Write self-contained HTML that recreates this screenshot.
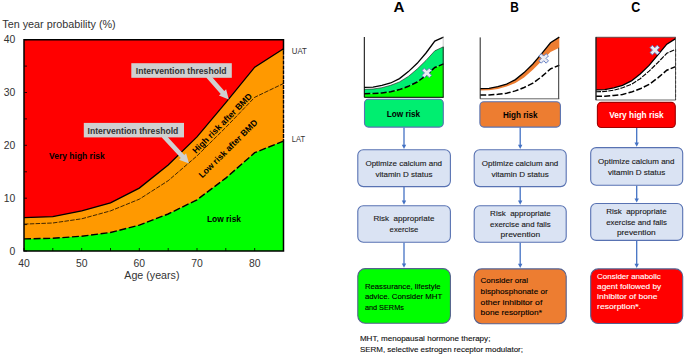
<!DOCTYPE html><html><head><meta charset="utf-8"><style>html,body{margin:0;padding:0;background:#fff;}svg{display:block}</style></head><body>
<svg width="685" height="358" viewBox="0 0 685 358">
<rect x="24.0" y="39.7" width="259.5" height="211.3" fill="#ff0000"/>
<polygon points="24.0,217.7 52.8,216.7 81.7,210.9 110.5,202.9 139.3,188.1 168.2,164.9 197.0,136.9 225.8,102.6 254.7,67.2 283.5,48.7 283.5,251.0 24.0,251.0" fill="#ff9900"/>
<polygon points="24.0,238.9 52.8,238.3 81.7,236.2 110.5,232.5 139.3,225.1 168.2,214.0 197.0,199.8 225.8,178.1 254.7,152.7 283.5,141.1 283.5,251.0 24.0,251.0" fill="#00ff00"/>
<polyline points="24.0,217.7 52.8,216.7 81.7,210.9 110.5,202.9 139.3,188.1 168.2,164.9 197.0,136.9 225.8,102.6 254.7,67.2 283.5,48.7" fill="none" stroke="#000" stroke-width="1.3"/>
<polyline points="24.0,224.1 52.8,223.0 81.7,218.8 110.5,210.9 139.3,199.2 168.2,180.7 197.0,155.9 225.8,127.4 254.7,97.3 283.5,83.5" fill="none" stroke="#000" stroke-width="0.75" stroke-dasharray="4.5 1.3"/>
<polyline points="24.0,238.9 52.8,238.3 81.7,236.2 110.5,232.5 139.3,225.1 168.2,214.0 197.0,199.8 225.8,178.1 254.7,152.7 283.5,141.1" fill="none" stroke="#000" stroke-width="1.4" stroke-dasharray="7 2.6"/>
<line x1="24.0" y1="251.0" x2="27.0" y2="251.0" stroke="#000" stroke-width="0.8"/>
<line x1="24.0" y1="224.6" x2="27.0" y2="224.6" stroke="#000" stroke-width="0.8"/>
<line x1="24.0" y1="198.2" x2="27.0" y2="198.2" stroke="#000" stroke-width="0.8"/>
<line x1="24.0" y1="171.8" x2="27.0" y2="171.8" stroke="#000" stroke-width="0.8"/>
<line x1="24.0" y1="145.3" x2="27.0" y2="145.3" stroke="#000" stroke-width="0.8"/>
<line x1="24.0" y1="118.9" x2="27.0" y2="118.9" stroke="#000" stroke-width="0.8"/>
<line x1="24.0" y1="92.5" x2="27.0" y2="92.5" stroke="#000" stroke-width="0.8"/>
<line x1="24.0" y1="66.1" x2="27.0" y2="66.1" stroke="#000" stroke-width="0.8"/>
<line x1="24.0" y1="39.7" x2="27.0" y2="39.7" stroke="#000" stroke-width="0.8"/>
<line x1="24.0" y1="251.0" x2="24.0" y2="248.0" stroke="#000" stroke-width="0.8"/>
<line x1="52.8" y1="251.0" x2="52.8" y2="248.0" stroke="#000" stroke-width="0.8"/>
<line x1="81.7" y1="251.0" x2="81.7" y2="248.0" stroke="#000" stroke-width="0.8"/>
<line x1="110.5" y1="251.0" x2="110.5" y2="248.0" stroke="#000" stroke-width="0.8"/>
<line x1="139.3" y1="251.0" x2="139.3" y2="248.0" stroke="#000" stroke-width="0.8"/>
<line x1="168.2" y1="251.0" x2="168.2" y2="248.0" stroke="#000" stroke-width="0.8"/>
<line x1="197.0" y1="251.0" x2="197.0" y2="248.0" stroke="#000" stroke-width="0.8"/>
<line x1="225.8" y1="251.0" x2="225.8" y2="248.0" stroke="#000" stroke-width="0.8"/>
<line x1="254.7" y1="251.0" x2="254.7" y2="248.0" stroke="#000" stroke-width="0.8"/>
<line x1="283.5" y1="251.0" x2="283.5" y2="248.0" stroke="#000" stroke-width="0.8"/>
<path d="M283.5,50.7 L283.5,39.7 L24.0,39.7 L24.0,251.0 L283.5,251.0 L283.5,140.1" fill="none" stroke="#000" stroke-width="1.5"/>
<line x1="283.5" y1="50.7" x2="283.5" y2="140.1" stroke="#000" stroke-width="1.4" stroke-dasharray="4 0.9"/>
<text x="15.3" y="254.7" font-family="Liberation Sans" font-size="10.4" fill="#333" text-anchor="end">0</text>
<text x="15.3" y="201.9" font-family="Liberation Sans" font-size="10.4" fill="#333" text-anchor="end">10</text>
<text x="15.3" y="149.0" font-family="Liberation Sans" font-size="10.4" fill="#333" text-anchor="end">20</text>
<text x="15.3" y="96.2" font-family="Liberation Sans" font-size="10.4" fill="#333" text-anchor="end">30</text>
<text x="15.3" y="43.4" font-family="Liberation Sans" font-size="10.4" fill="#333" text-anchor="end">40</text>
<text x="24.0" y="266.6" font-family="Liberation Sans" font-size="10.4" fill="#333" text-anchor="middle">40</text>
<text x="81.7" y="266.6" font-family="Liberation Sans" font-size="10.4" fill="#333" text-anchor="middle">50</text>
<text x="139.3" y="266.6" font-family="Liberation Sans" font-size="10.4" fill="#333" text-anchor="middle">60</text>
<text x="197.0" y="266.6" font-family="Liberation Sans" font-size="10.4" fill="#333" text-anchor="middle">70</text>
<text x="254.7" y="266.6" font-family="Liberation Sans" font-size="10.4" fill="#333" text-anchor="middle">80</text>
<text x="151.9" y="278.5" font-family="Liberation Sans" font-size="10.7" fill="#333" text-anchor="middle">Age (years)</text>
<text x="2.3" y="28" font-family="Liberation Sans" font-size="10.8" fill="#333">Ten year probability (%)</text>
<text x="291.8" y="54" font-family="Liberation Sans" font-size="8.6" fill="#333" textLength="15.1" lengthAdjust="spacingAndGlyphs">UAT</text>
<text x="291.8" y="141.9" font-family="Liberation Sans" font-size="8.6" fill="#333" textLength="13.2" lengthAdjust="spacingAndGlyphs">LAT</text>
<text x="49" y="158.8" font-family="Liberation Sans" font-size="8.5" font-weight="bold" fill="#000">Very high risk</text>
<text x="207" y="221.8" font-family="Liberation Sans" font-size="8.4" font-weight="bold" fill="#000">Low risk</text>
<text transform="translate(195.9,154.1) rotate(-45.3)" font-family="Liberation Sans" font-size="8.7" font-weight="bold" fill="#000">High risk after BMD</text>
<text transform="translate(202.3,178.6) rotate(-44.8)" font-family="Liberation Sans" font-size="8.7" font-weight="bold" fill="#000">Low risk after BMD</text>
<rect x="131.3" y="63.2" width="100.5" height="14.6" fill="#d0d0d0"/>
<polygon points="206.2,77.6 220.7,94.1 218.9,95.6 228.8,99.6 226.1,89.3 224.3,90.9 209.8,74.4" fill="#d0d0d0"/>
<text x="135.8" y="74" font-family="Liberation Sans" font-size="8.6" font-weight="bold" fill="#333">Intervention threshold</text>
<rect x="83.8" y="122.9" width="100.2" height="14.5" fill="#d0d0d0"/>
<polygon points="161.8,137.6 180.8,158.1 179.0,159.8 189.0,163.5 186.1,153.3 184.3,154.9 165.4,134.4" fill="#d0d0d0"/>
<text x="87.6" y="133.8" font-family="Liberation Sans" font-size="8.6" font-weight="bold" fill="#333">Intervention threshold</text>
<polygon points="364.3,89.3 373.1,89.0 381.9,87.7 390.7,85.3 399.5,81.9 408.4,76.4 417.2,69.0 426.0,60.4 434.8,50.8 443.6,46.7 443.6,63.9 434.8,67.5 426.0,75.6 417.2,82.0 408.4,86.3 399.5,89.6 390.7,91.8 381.9,92.9 373.1,93.5 364.3,93.7" fill="#00ee70"/>
<polygon points="364.3,93.7 373.1,93.5 381.9,92.9 390.7,91.8 399.5,89.6 408.4,86.3 417.2,82.0 426.0,75.6 434.8,67.5 443.6,63.9 443.6,97.3 364.3,97.3" fill="#00ff00"/>
<polyline points="364.3,89.3 373.1,89.0 381.9,87.7 390.7,85.3 399.5,81.9 408.4,76.4 417.2,69.0 426.0,60.4 434.8,50.8 443.6,46.7" fill="none" stroke="#1a1a1a" stroke-width="0.6"/>
<polyline points="364.3,87.4 373.1,87.1 381.9,85.3 390.7,83.0 399.5,78.6 408.4,71.6 417.2,63.3 426.0,53.0 434.8,41.1 443.6,37.1" fill="none" stroke="#000" stroke-width="1.3"/>
<polyline points="364.3,93.7 373.1,93.5 381.9,92.9 390.7,91.8 399.5,89.6 408.4,86.3 417.2,82.0 426.0,75.6 434.8,67.5 443.6,63.9" fill="none" stroke="#000" stroke-width="1.5" stroke-dasharray="6 2.2"/>
<line x1="443.20000000000005" y1="46.7425" x2="443.20000000000005" y2="97.3" stroke="#222" stroke-width="1"/>
<line x1="443.20000000000005" y1="37.13499999999999" x2="443.20000000000005" y2="46.7425" stroke="#bbb" stroke-width="0.8"/>
<line x1="364.3" y1="37.0" x2="364.3" y2="97.3" stroke="#000" stroke-width="1"/>
<line x1="364.3" y1="97.3" x2="443.6" y2="97.3" stroke="#000" stroke-width="1"/>
<g transform="translate(426.8,72.9) rotate(45)"><polygon points="-1.65,-5.1 1.65,-5.1 1.65,-1.65 5.1,-1.65 5.1,1.65 1.65,1.65 1.65,5.1 -1.65,5.1 -1.65,1.65 -5.1,1.65 -5.1,-1.65 -1.65,-1.65" fill="#ececf2" stroke="#5f7cc2" stroke-width="0.9" stroke-linejoin="round"/></g>
<line x1="480.2" y1="98.8" x2="559.3" y2="98.8" stroke="#555" stroke-width="0.9"/>
<polygon points="480.2,88.7 489.0,88.3 497.8,86.6 506.6,84.1 515.4,79.6 524.1,72.6 532.9,64.0 541.7,53.6 550.5,42.8 559.3,37.1 559.3,47.8 550.5,51.9 541.7,61.1 532.9,69.8 524.1,77.4 515.4,83.0 506.6,86.6 497.8,89.0 489.0,90.3 480.2,90.6" fill="#ed7d31"/>
<polyline points="480.2,88.7 489.0,88.3 497.8,86.6 506.6,84.1 515.4,79.6 524.1,72.6 532.9,64.0 541.7,53.6 550.5,42.8 559.3,37.1" fill="none" stroke="#000" stroke-width="1.3"/>
<polyline points="480.2,95.1 489.0,94.9 497.8,94.3 506.6,93.2 515.4,90.9 524.1,87.5 532.9,83.2 541.7,76.6 550.5,68.9 559.3,65.3" fill="none" stroke="#000" stroke-width="1.5" stroke-dasharray="6 2.2"/>
<line x1="558.6999999999999" y1="47.763" x2="558.6999999999999" y2="98.8" stroke="#333" stroke-width="1"/>
<line x1="480.2" y1="37.4" x2="480.2" y2="98.8" stroke="#222" stroke-width="1"/>
<g transform="translate(543.7,58.4) rotate(45)"><polygon points="-1.65,-5.1 1.65,-5.1 1.65,-1.65 5.1,-1.65 5.1,1.65 1.65,1.65 1.65,5.1 -1.65,5.1 -1.65,1.65 -5.1,1.65 -5.1,-1.65 -1.65,-1.65" fill="#ececf2" stroke="#5f7cc2" stroke-width="0.9" stroke-linejoin="round"/></g>
<polygon points="596.0,89.9 604.8,89.6 613.7,87.8 622.5,85.4 631.4,80.9 640.2,73.9 649.1,65.4 657.9,54.9 666.8,44.2 675.6,38.6 675.6,37.2 596.0,37.2" fill="#ff0000"/>
<polyline points="596.0,91.8 604.8,91.5 613.7,90.2 622.5,87.8 631.4,84.3 640.2,78.7 649.1,71.1 657.9,62.5 666.8,53.3 675.6,49.2" fill="none" stroke="#000" stroke-width="1.1" stroke-dasharray="5 1.2"/>
<polyline points="596.0,89.9 604.8,89.6 613.7,87.8 622.5,85.4 631.4,80.9 640.2,73.9 649.1,65.4 657.9,54.9 666.8,44.2 675.6,38.6" fill="none" stroke="#000" stroke-width="1.3"/>
<polyline points="596.0,96.3 604.8,96.2 613.7,95.5 622.5,94.4 631.4,92.1 640.2,88.8 649.1,84.4 657.9,77.9 666.8,70.2 675.6,66.6" fill="none" stroke="#000" stroke-width="1.5" stroke-dasharray="6 2.2"/>
<line x1="675.6" y1="49.1532" x2="675.6" y2="100.0" stroke="#000" stroke-width="0.9" stroke-dasharray="3 1.5"/>
<rect x="596.0" y="37.2" width="79.60000000000002" height="62.8" fill="none" stroke="#444" stroke-width="0.8"/>
<line x1="596.0" y1="37.2" x2="596.0" y2="100.0" stroke="#111" stroke-width="1"/>
<g transform="translate(654.8,50.1) rotate(45)"><polygon points="-1.65,-5.1 1.65,-5.1 1.65,-1.65 5.1,-1.65 5.1,1.65 1.65,1.65 1.65,5.1 -1.65,5.1 -1.65,1.65 -5.1,1.65 -5.1,-1.65 -1.65,-1.65" fill="#ececf2" stroke="#5f7cc2" stroke-width="0.9" stroke-linejoin="round"/></g>
<text x="393.6" y="12.1" font-family="Liberation Sans" font-size="15.2" font-weight="bold" fill="#000">A</text>
<text x="510.2" y="12.1" font-family="Liberation Sans" font-size="15.2" font-weight="bold" fill="#000" textLength="8.6" lengthAdjust="spacingAndGlyphs">B</text>
<text x="631.3" y="12.1" font-family="Liberation Sans" font-size="15.2" font-weight="bold" fill="#000" textLength="9" lengthAdjust="spacingAndGlyphs">C</text>
<rect x="364.5" y="99.3" width="78.8" height="27.8" rx="4" fill="#00ee70" stroke="#5872b2" stroke-width="1.1"/>
<text x="386.7" y="116.8" textLength="33.4" lengthAdjust="spacingAndGlyphs" font-family="Liberation Sans" font-size="8.6" font-weight="bold" fill="#000" xml:space="preserve">Low risk</text>
<rect x="357.8" y="149.8" width="92.6" height="36.8" rx="5.5" fill="#dae3f3" stroke="#5872b2" stroke-width="1.1"/>
<text x="365.4" y="166.2" textLength="76.7" lengthAdjust="spacingAndGlyphs" font-family="Liberation Sans" font-size="7.9" font-weight="normal" fill="#1a1a1a" stroke="#1a1a1a" stroke-width="0.12" xml:space="preserve">Optimize calcium and</text>
<text x="375.4" y="176.6" textLength="57.1" lengthAdjust="spacingAndGlyphs" font-family="Liberation Sans" font-size="7.9" font-weight="normal" fill="#1a1a1a" stroke="#1a1a1a" stroke-width="0.12" xml:space="preserve">vitamin D status</text>
<rect x="357.8" y="205.7" width="92.6" height="36.5" rx="5.5" fill="#dae3f3" stroke="#5872b2" stroke-width="1.1"/>
<text x="373.4" y="221.2" textLength="61.0" lengthAdjust="spacingAndGlyphs" font-family="Liberation Sans" font-size="7.9" font-weight="normal" fill="#1a1a1a" stroke="#1a1a1a" stroke-width="0.12" xml:space="preserve">Risk  appropriate</text>
<text x="389.6" y="232.0" textLength="28.7" lengthAdjust="spacingAndGlyphs" font-family="Liberation Sans" font-size="7.9" font-weight="normal" fill="#1a1a1a" stroke="#1a1a1a" stroke-width="0.12" xml:space="preserve">exercise</text>
<rect x="357.8" y="268.6" width="92.6" height="54.7" rx="7.5" fill="#00ff00" stroke="#55608f" stroke-width="1.1"/>
<text x="364.9" y="288.8" textLength="75.8" lengthAdjust="spacingAndGlyphs" font-family="Liberation Sans" font-size="7.9" font-weight="normal" fill="#000" stroke="#000" stroke-width="0.12" xml:space="preserve">Reassurance, lifestyle</text>
<text x="364.9" y="299.0" textLength="77.3" lengthAdjust="spacingAndGlyphs" font-family="Liberation Sans" font-size="7.9" font-weight="normal" fill="#000" stroke="#000" stroke-width="0.12" xml:space="preserve">advice. Consider MHT</text>
<text x="364.9" y="309.5" textLength="39.0" lengthAdjust="spacingAndGlyphs" font-family="Liberation Sans" font-size="7.9" font-weight="normal" fill="#000" stroke="#000" stroke-width="0.12" xml:space="preserve">and SERMs</text>
<line x1="404.0" y1="127.6" x2="404.0" y2="145.8" stroke="#4472c4" stroke-width="1.3"/>
<polygon points="401.8,144.70000000000002 406.2,144.70000000000002 404.0,148.9" fill="#4472c4"/>
<line x1="404.0" y1="187.1" x2="404.0" y2="201.7" stroke="#4472c4" stroke-width="1.3"/>
<polygon points="401.8,200.6 406.2,200.6 404.0,204.79999999999998" fill="#4472c4"/>
<line x1="404.0" y1="242.7" x2="404.0" y2="264.6" stroke="#4472c4" stroke-width="1.3"/>
<polygon points="401.8,263.5 406.2,263.5 404.0,267.70000000000005" fill="#4472c4"/>
<rect x="479.9" y="101.7" width="80.5" height="25.4" rx="4" fill="#ed7d31" stroke="#5872b2" stroke-width="1.1"/>
<text x="502.9" y="117.6" textLength="34.7" lengthAdjust="spacingAndGlyphs" font-family="Liberation Sans" font-size="8.6" font-weight="bold" fill="#000" xml:space="preserve">High risk</text>
<rect x="474.2" y="149.8" width="92.0" height="36.8" rx="5.5" fill="#dae3f3" stroke="#5872b2" stroke-width="1.1"/>
<text x="481.8" y="166.2" textLength="76.5" lengthAdjust="spacingAndGlyphs" font-family="Liberation Sans" font-size="7.9" font-weight="normal" fill="#1a1a1a" stroke="#1a1a1a" stroke-width="0.12" xml:space="preserve">Optimize calcium and</text>
<text x="491.4" y="176.7" textLength="57.4" lengthAdjust="spacingAndGlyphs" font-family="Liberation Sans" font-size="7.9" font-weight="normal" fill="#1a1a1a" stroke="#1a1a1a" stroke-width="0.12" xml:space="preserve">vitamin D status</text>
<rect x="474.2" y="205.7" width="92.0" height="36.6" rx="5.5" fill="#dae3f3" stroke="#5872b2" stroke-width="1.1"/>
<text x="490.1" y="216.2" textLength="60.6" lengthAdjust="spacingAndGlyphs" font-family="Liberation Sans" font-size="7.9" font-weight="normal" fill="#1a1a1a" stroke="#1a1a1a" stroke-width="0.12" xml:space="preserve">Risk  appropriate</text>
<text x="490.1" y="226.7" textLength="60.6" lengthAdjust="spacingAndGlyphs" font-family="Liberation Sans" font-size="7.9" font-weight="normal" fill="#1a1a1a" stroke="#1a1a1a" stroke-width="0.12" xml:space="preserve">exercise and falls</text>
<text x="500.6" y="237.2" textLength="39.6" lengthAdjust="spacingAndGlyphs" font-family="Liberation Sans" font-size="7.9" font-weight="normal" fill="#1a1a1a" stroke="#1a1a1a" stroke-width="0.12" xml:space="preserve">prevention</text>
<rect x="474.2" y="268.9" width="92.0" height="54.8" rx="7.5" fill="#ed7d31" stroke="#55608f" stroke-width="1.1"/>
<text x="480.6" y="283.4" textLength="47.5" lengthAdjust="spacingAndGlyphs" font-family="Liberation Sans" font-size="7.9" font-weight="normal" fill="#000" stroke="#000" stroke-width="0.12" xml:space="preserve">Consider oral</text>
<text x="480.6" y="293.9" textLength="67.1" lengthAdjust="spacingAndGlyphs" font-family="Liberation Sans" font-size="7.9" font-weight="normal" fill="#000" stroke="#000" stroke-width="0.12" xml:space="preserve">bisphosphonate or</text>
<text x="480.6" y="304.5" textLength="61.7" lengthAdjust="spacingAndGlyphs" font-family="Liberation Sans" font-size="7.9" font-weight="normal" fill="#000" stroke="#000" stroke-width="0.12" xml:space="preserve">other inhibitor of</text>
<text x="480.6" y="314.6" textLength="61.3" lengthAdjust="spacingAndGlyphs" font-family="Liberation Sans" font-size="7.9" font-weight="normal" fill="#000" stroke="#000" stroke-width="0.12" xml:space="preserve">bone resorption*</text>
<line x1="520.2" y1="127.6" x2="520.2" y2="145.8" stroke="#4472c4" stroke-width="1.3"/>
<polygon points="518.0,144.70000000000002 522.4000000000001,144.70000000000002 520.2,148.9" fill="#4472c4"/>
<line x1="520.2" y1="187.1" x2="520.2" y2="201.7" stroke="#4472c4" stroke-width="1.3"/>
<polygon points="518.0,200.6 522.4000000000001,200.6 520.2,204.79999999999998" fill="#4472c4"/>
<line x1="520.2" y1="242.8" x2="520.2" y2="264.9" stroke="#4472c4" stroke-width="1.3"/>
<polygon points="518.0,263.79999999999995 522.4000000000001,263.79999999999995 520.2,268.0" fill="#4472c4"/>
<rect x="597.4" y="102.4" width="77.9" height="25.1" rx="4" fill="#ff0000" stroke="#a00000" stroke-width="1.1"/>
<text x="609.2" y="117.8" textLength="54.5" lengthAdjust="spacingAndGlyphs" font-family="Liberation Sans" font-size="8.6" font-weight="bold" fill="#fff" xml:space="preserve">Very high risk</text>
<rect x="590.7" y="147.6" width="92.0" height="37.7" rx="5.5" fill="#dae3f3" stroke="#5872b2" stroke-width="1.1"/>
<text x="598.1" y="164.2" textLength="76.4" lengthAdjust="spacingAndGlyphs" font-family="Liberation Sans" font-size="7.9" font-weight="normal" fill="#1a1a1a" stroke="#1a1a1a" stroke-width="0.12" xml:space="preserve">Optimize calcium and</text>
<text x="607.9" y="174.7" textLength="57.4" lengthAdjust="spacingAndGlyphs" font-family="Liberation Sans" font-size="7.9" font-weight="normal" fill="#1a1a1a" stroke="#1a1a1a" stroke-width="0.12" xml:space="preserve">vitamin D status</text>
<rect x="590.7" y="203.5" width="92.0" height="36.9" rx="5.5" fill="#dae3f3" stroke="#5872b2" stroke-width="1.1"/>
<text x="606.2" y="214.2" textLength="60.4" lengthAdjust="spacingAndGlyphs" font-family="Liberation Sans" font-size="7.9" font-weight="normal" fill="#1a1a1a" stroke="#1a1a1a" stroke-width="0.12" xml:space="preserve">Risk  appropriate</text>
<text x="606.2" y="224.7" textLength="60.8" lengthAdjust="spacingAndGlyphs" font-family="Liberation Sans" font-size="7.9" font-weight="normal" fill="#1a1a1a" stroke="#1a1a1a" stroke-width="0.12" xml:space="preserve">exercise and falls</text>
<text x="616.9" y="235.2" textLength="38.8" lengthAdjust="spacingAndGlyphs" font-family="Liberation Sans" font-size="7.9" font-weight="normal" fill="#1a1a1a" stroke="#1a1a1a" stroke-width="0.12" xml:space="preserve">prevention</text>
<rect x="590.7" y="268.9" width="92.0" height="54.6" rx="7.5" fill="#ff0000" stroke="#55608f" stroke-width="1.1"/>
<text x="597.1" y="278.5" textLength="63.7" lengthAdjust="spacingAndGlyphs" font-family="Liberation Sans" font-size="7.9" font-weight="normal" fill="#fff" stroke="#fff" stroke-width="0.12" xml:space="preserve">Consider anabolic</text>
<text x="597.1" y="288.8" textLength="64.0" lengthAdjust="spacingAndGlyphs" font-family="Liberation Sans" font-size="7.9" font-weight="normal" fill="#fff" stroke="#fff" stroke-width="0.12" xml:space="preserve">agent followed by</text>
<text x="597.1" y="299.1" textLength="60.3" lengthAdjust="spacingAndGlyphs" font-family="Liberation Sans" font-size="7.9" font-weight="normal" fill="#fff" stroke="#fff" stroke-width="0.12" xml:space="preserve">inhibitor of bone</text>
<text x="597.1" y="308.9" textLength="43.9" lengthAdjust="spacingAndGlyphs" font-family="Liberation Sans" font-size="7.9" font-weight="normal" fill="#fff" stroke="#fff" stroke-width="0.12" xml:space="preserve">resorption*.</text>
<line x1="636.7" y1="128" x2="636.7" y2="143.6" stroke="#4472c4" stroke-width="1.3"/>
<polygon points="634.5,142.5 638.9000000000001,142.5 636.7,146.7" fill="#4472c4"/>
<line x1="636.7" y1="185.8" x2="636.7" y2="199.5" stroke="#4472c4" stroke-width="1.3"/>
<polygon points="634.5,198.4 638.9000000000001,198.4 636.7,202.6" fill="#4472c4"/>
<line x1="636.7" y1="240.9" x2="636.7" y2="264.9" stroke="#4472c4" stroke-width="1.3"/>
<polygon points="634.5,263.79999999999995 638.9000000000001,263.79999999999995 636.7,268.0" fill="#4472c4"/>
<text x="359.9" y="340.8" textLength="130.5" lengthAdjust="spacingAndGlyphs" font-family="Liberation Sans" font-size="7.9" font-weight="normal" fill="#111" stroke="#111" stroke-width="0.12" xml:space="preserve">MHT, menopausal hormone therapy;</text>
<text x="359.9" y="351.7" textLength="163.1" lengthAdjust="spacingAndGlyphs" font-family="Liberation Sans" font-size="7.9" font-weight="normal" fill="#111" stroke="#111" stroke-width="0.12" xml:space="preserve">SERM, selective estrogen receptor modulator;</text>
</svg></body></html>
